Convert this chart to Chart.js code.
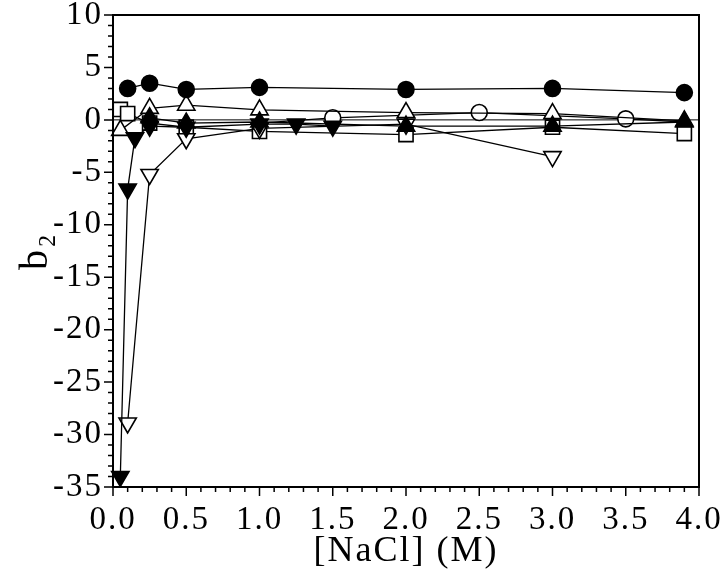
<!DOCTYPE html>
<html>
<head>
<meta charset="utf-8">
<script src="https://cdn.jsdelivr.net/npm/chart.js@4.4.0/dist/chart.umd.min.js"></script>
<style>
  html, body { margin: 0; padding: 0; background: #fff; }
  #wrap { width: 720px; height: 573px; }
</style>
</head>
<body>
<div id="wrap"><canvas id="b2Chart" width="720" height="573"></canvas></div>
<script>
// setup - values, [NaCl] in M
const xTicks = [0.0, 0.5, 1.0, 1.5, 2.0, 2.5, 3.0, 3.5, 4.0];
const yTicks = [-35, -30, -25, -20, -15, -10, -5, 0, 5, 10];

const filledCircleX = [0.1, 0.25, 0.5, 1.0, 2.0, 3.0, 3.9];
const filledCircleY = [3.0, 3.5, 2.9, 3.1, 2.9, 3.0, 2.6];

const openCircleX = [1.0, 1.5, 2.5, 3.5, 3.9];
const openCircleY = [-0.3, 0.2, 0.7, 0.1, -0.2];

const openSquareX = [0.05, 0.1, 0.25, 0.5, 1.0, 2.0, 3.0, 3.9];
const openSquareY = [1.0, 0.6, -0.3, -0.7, -1.1, -1.4, -0.7, -1.3];

const openUpX = [0.05, 0.25, 0.5, 1.0, 2.0, 3.0, 3.9];
const openUpY = [-1.0, 1.1, 1.4, 0.95, 0.7, 0.6, -0.1];

const filledUpX = [0.25, 0.5, 1.0, 2.0, 3.0, 3.9];
const filledUpY = [0.2, -0.3, -0.2, -0.6, -0.6, -0.2];

const filledDownX = [0.05, 0.1, 0.15, 0.25, 0.5, 1.0, 1.25, 1.5];
const filledDownY = [-34.0, -6.6, -1.7, -0.6, -0.7, -0.4, -0.4, -0.6];

const openDownX = [0.1, 0.25, 0.5, 1.0, 2.0, 3.0];
const openDownY = [-28.9, -5.2, -1.8, -0.8, -0.4, -3.5];

const pts = (xs, ys) => xs.map((x, i) => ({ x: x, y: ys[i] }));

function series(label, xs, ys, style, filled, rotation, radius) {
  return {
    label: label,
    data: pts(xs, ys),
    showLine: true,
    borderColor: '#000',
    borderWidth: 1.3,
    pointStyle: style,
    pointRotation: rotation || 0,
    pointRadius: radius !== undefined ? radius : (style === 'circle' ? 8 : 10),
    pointBackgroundColor: filled ? '#000' : '#fff',
    pointBorderColor: '#000',
    pointBorderWidth: 1.6,
    tension: 0
  };
}

// first dataset is drawn on top
const data = {
  datasets: [
    series('filled circle', filledCircleX, filledCircleY, 'circle', true),
    series('filled down triangle', filledDownX, filledDownY, 'triangle', true, 180),
    series('filled triangle', filledUpX, filledUpY, 'triangle', true),
    series('open triangle', openUpX, openUpY, 'triangle', false),
    series('open circle', openCircleX, openCircleY, 'circle', false, 0, [0, 8, 8, 8, 0]),
    series('open down triangle', openDownX, openDownY, 'triangle', false, 180),
    series('open square', openSquareX, openSquareY, 'rect', false)
  ]
};

// wider text spacing like the printed figure
const spacingPlugin = {
  id: 'spacing',
  beforeLayout(chart) { chart.ctx.letterSpacing = '2px'; },
  beforeDraw(chart) { chart.ctx.letterSpacing = '2px'; }
};

// frame, zero line and outward tick marks
const framePlugin = {
  id: 'frame',
  beforeDatasetsDraw(chart) {
    const { ctx, chartArea: a, scales: { y } } = chart;
    ctx.save();
    ctx.strokeStyle = '#000';
    ctx.lineWidth = 1;
    const y0 = y.getPixelForValue(0);
    ctx.beginPath();
    ctx.moveTo(a.left, y0);
    ctx.lineTo(a.right, y0);
    ctx.stroke();
    ctx.restore();
  },
  afterDraw(chart) {
    const { ctx, chartArea: a, scales: { x, y } } = chart;
    ctx.save();
    ctx.strokeStyle = '#000';
    ctx.lineWidth = 2;
    ctx.strokeRect(a.left, a.top, a.right - a.left, a.bottom - a.top);
    ctx.lineWidth = 1.5;
    ctx.beginPath();
    for (let i = 0; i <= 40; i++) {
      const px = x.getPixelForValue(i / 10);
      const len = i % 5 === 0 ? 9 : 5;
      ctx.moveTo(px, a.bottom);
      ctx.lineTo(px, a.bottom + len);
    }
    for (let v = -35; v <= 10; v++) {
      const py = y.getPixelForValue(v);
      const len = v % 5 === 0 ? 9 : 5;
      ctx.moveTo(a.left, py);
      ctx.lineTo(a.left - len, py);
    }
    ctx.stroke();
    ctx.restore();
  }
};

// config
const font = { family: '"Liberation Serif", "Times New Roman", serif' };
const config = {
  type: 'scatter',
  data,
  options: {
    responsive: false,
    animation: false,
    clip: false,
    layout: { padding: { top: 15, right: 21, bottom: 2, left: 4 } },
    plugins: { legend: { display: false }, tooltip: { enabled: false } },
    scales: {
      x: {
        type: 'linear',
        min: 0,
        max: 4,
        afterBuildTicks: (s) => { s.ticks = xTicks.map(v => ({ value: v })); },
        afterFit: (s) => { s.height = 84; s.paddingLeft = 0; s.paddingRight = 0; },
        ticks: {
          color: '#000',
          padding: 14,
          maxRotation: 0,
          font: { ...font, size: 33 },
          callback: (v) => Number(v).toFixed(1)
        },
        grid: { display: false, drawTicks: false },
        border: { display: false },
        title: {
          display: true,
          text: '[NaCl] (M)',
          color: '#000',
          padding: { top: 0, bottom: -2 },
          font: { ...font, size: 36 }
        }
      },
      y: {
        type: 'linear',
        min: -35,
        max: 10,
        afterBuildTicks: (s) => { s.ticks = yTicks.map(v => ({ value: v })); },
        afterFit: (s) => { s.width = 109; s.paddingTop = 0; s.paddingBottom = 0; },
        ticks: {
          color: '#000',
          padding: 10,
          font: { ...font, size: 33 },
          callback: (v) => String(v)
        },
        grid: { display: false, drawTicks: false },
        border: { display: false },
        title: {
          display: true,
          text: 'b₂',
          color: '#000',
          padding: { top: 8, bottom: 0 },
          font: { ...font, size: 40 }
        }
      }
    }
  },
  plugins: [spacingPlugin, framePlugin]
};

// render init block
const b2Chart = new Chart(
  document.getElementById('b2Chart'),
  config
);
</script>
</body>
</html>
